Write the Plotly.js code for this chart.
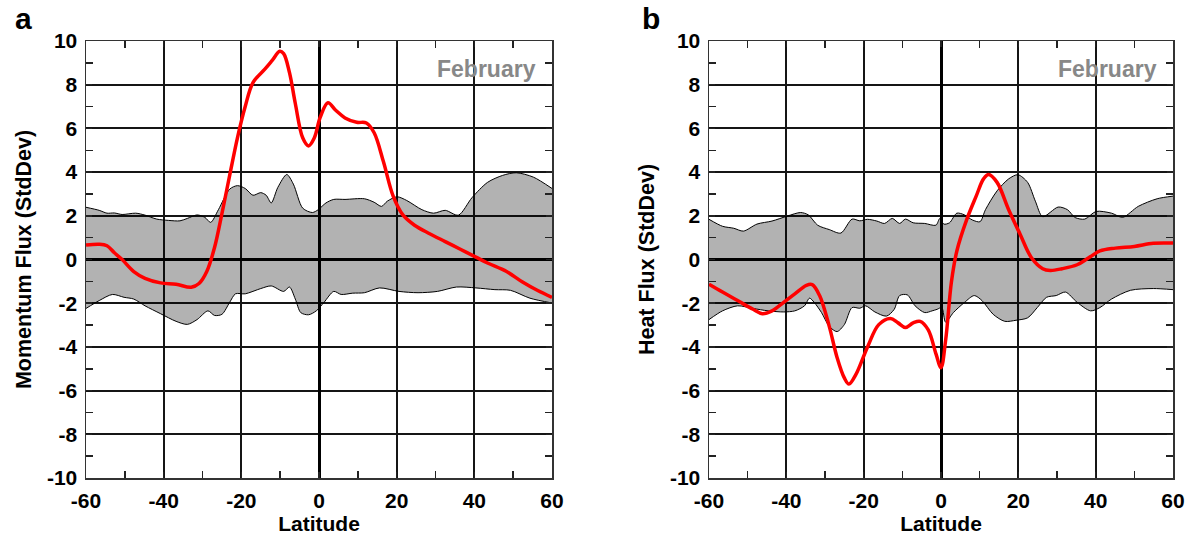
<!DOCTYPE html>
<html><head><meta charset="utf-8">
<script src="https://cdn.plot.ly/plotly-3.0.1.min.js"></script>
<style>html,body{margin:0;padding:0;background:#fff}#chart{width:1198px;height:539px}</style>
</head><body><div id="chart"></div>
<script>
// ---- Panel a: Momentum flux ----
const latA_red = [-60,-56.6,-54.6,-52.7,-50.7,-47.7,-44.8,-40.8,-36.8,-32.9,-30.9,-28.9,-26.9,-25,-23,-21,-19,-17,-14,-12.1,-10.1,-9.1,-7.6,-6.1,-4.2,-2.7,-1.2,0.3,2.3,4.3,6.7,9.7,12.2,14.2,16.6,19.1,21.6,24.6,28.5,32.5,36.4,40.4,43.4,48.3,52.3,56.2,60];
const valA_red = [0.66,0.7,0.63,0.31,0,-0.55,-0.86,-1.07,-1.13,-1.27,-1.1,-0.55,0.55,2.1,3.85,5.57,7,8.1,8.7,9.1,9.53,9.42,8.55,7.14,5.57,5.2,5.57,6.5,7.17,6.83,6.48,6.28,6.25,5.8,4.47,2.9,2.04,1.57,1.18,0.82,0.47,0.11,-0.16,-0.55,-1.02,-1.41,-1.73];
const latA_up = [-60,-56.6,-54.6,-52.7,-50.7,-47.2,-44.8,-41.8,-38.8,-35.8,-33.9,-31.4,-29.4,-27.9,-25.9,-23,-21,-19,-17,-15,-13.6,-12.3,-10.6,-8.3,-6.6,-4.2,-1.7,-0.2,1.8,3.8,6.7,11.7,14.2,16.1,17.6,20.1,22.6,26.5,29.5,32.5,35.9,39.4,43.4,47.3,50.8,55.2,60];
const valA_up = [2.39,2.25,2.12,2.13,2.06,2.12,2.03,1.85,1.79,1.77,1.88,2.04,1.93,1.7,2.28,3.22,3.38,3.25,2.94,3.06,2.94,2.59,3.3,3.89,3.45,2.35,2.15,2.28,2.59,2.75,2.75,2.78,2.62,2.43,2.67,2.87,2.7,2.28,2.12,2.25,2.03,2.83,3.53,3.85,3.97,3.77,3.25];
const latA_lo = [-60,-56.6,-53.2,-50.2,-47.7,-44.8,-40.8,-36.8,-33.9,-31.4,-28.6,-26.9,-25,-23,-21.5,-19,-15,-12.3,-9.1,-7.6,-6.1,-4.7,-2.7,-0.7,1.3,3.8,5.7,8.7,11.7,15.6,20.6,25.5,30.5,35.4,40.4,45.3,49.3,54.3,60];
const valA_lo = [-2.24,-1.88,-1.6,-1.73,-1.81,-2.12,-2.48,-2.83,-2.97,-2.75,-2.35,-2.56,-2.51,-1.96,-1.57,-1.57,-1.33,-1.21,-1.46,-1.26,-1.81,-2.43,-2.53,-2.35,-1.96,-1.46,-1.6,-1.54,-1.52,-1.3,-1.46,-1.52,-1.46,-1.26,-1.3,-1.38,-1.41,-1.77,-1.99];

// ---- Panel b: Heat flux ----
const latB_red = [-60,-56.5,-52.6,-48.6,-46.2,-43.7,-40.7,-37.8,-34.8,-33.3,-31.4,-28.9,-26.9,-25,-23.8,-22,-19,-16.1,-13.1,-11.1,-9.2,-7.2,-5.4,-3.3,-1.3,0,1.2,2.7,4.1,6.6,9.1,11,12.3,14.5,17.5,20.4,23.4,26.3,28.3,31.3,35.2,38.2,41.1,45.1,50,54.9,60];
const valB_red = [-1.13,-1.49,-1.88,-2.28,-2.48,-2.35,-1.96,-1.57,-1.18,-1.15,-1.65,-3.06,-4.47,-5.42,-5.7,-5.26,-4.0,-2.98,-2.7,-2.9,-3.11,-2.9,-2.83,-3.22,-4.32,-4.95,-3.69,-1.02,0.39,1.8,2.9,3.69,3.89,3.53,2.28,1.18,0.08,-0.42,-0.5,-0.42,-0.24,0.08,0.39,0.52,0.6,0.74,0.75];
const latB_up = [-60,-56.5,-53.6,-51.1,-47.6,-43.7,-39.7,-36.3,-34.3,-31.9,-28.9,-25.9,-23,-21,-19,-16.6,-14.6,-12.6,-10.7,-9.2,-7.2,-4.2,-1.3,-0.3,0.7,2.2,4.1,6.1,8.1,10.1,11.5,14.5,17.5,19.9,22.4,24.4,26.3,30.3,32.7,34.7,37.2,40.1,44.1,47,51,55.9,60];
const valB_up = [1.84,1.52,1.43,1.3,1.62,1.76,1.99,2.15,2.04,1.57,1.37,1.21,1.85,1.77,1.84,1.76,1.65,1.88,1.65,1.85,1.68,1.65,1.57,1.88,1.62,1.68,2.12,2.04,1.81,1.73,2.28,3.14,3.69,3.88,3.53,2.67,1.96,2.4,2.28,1.92,1.85,2.2,2.12,1.93,2.43,2.78,2.9];
const latB_lo = [-60,-56.5,-52.6,-48.6,-44.7,-40.7,-37.8,-35.3,-34,-32.8,-30.9,-28.9,-26.9,-25,-23,-21,-19.5,-17.1,-14.1,-12.1,-10.7,-8.7,-6.7,-4.2,-2.3,-1,0.2,1.2,3.2,6.1,8.6,10.6,13.5,16.5,19.4,22.4,24.9,27.3,29.8,32.2,35.2,38.7,41.1,44.1,49,54.9,60];
const valB_lo = [-2.75,-2.35,-2.12,-2.24,-2.35,-2.4,-2.35,-2.12,-1.77,-1.96,-2.43,-3.06,-3.3,-2.98,-2.2,-2.23,-2.12,-2.4,-2.59,-2.28,-1.65,-1.62,-2.12,-2.43,-2.35,-2.28,-2.2,-2.87,-2.43,-1.96,-1.65,-1.88,-2.51,-2.83,-2.78,-2.67,-2.2,-1.73,-1.65,-1.49,-1.96,-2.35,-2.2,-1.81,-1.41,-1.33,-1.38];

const xTickVals = [-60,-40,-20,0,20,40,60];
const xTickText = ['-60','-40','-20','0','20','40','60'];
const yTickVals = [-10,-8,-6,-4,-2,0,2,4,6,8,10];
const yTickText = ['-10','-8','-6','-4','-2','0','2','4','6','8','10'];
const panelLetters = ['a','b'];
const yTitles = ['Momentum Flux (StdDev)','Heat Flux (StdDev)'];
const xTitle = 'Latitude';
const monthLabel = 'February';

const FONT = 'Liberation Sans, Arial, Helvetica, sans-serif';
const bandFill = 'rgba(0,0,0,0.3)';

function bandTraces(lx, lv, ux, uv, xa, ya){
  return [
    {x: lx, y: lv, xaxis: xa, yaxis: ya, type:'scatter', mode:'lines',
     line:{color:'#000', width:1, shape:'spline', smoothing:0.8}, hoverinfo:'skip', showlegend:false},
    {x: ux, y: uv, xaxis: xa, yaxis: ya, type:'scatter', mode:'lines', fill:'tonexty', fillcolor: bandFill,
     line:{color:'#000', width:1, shape:'spline', smoothing:0.8}, hoverinfo:'skip', showlegend:false}
  ];
}
function redTrace(x, y, xa, ya){
  return {x:x, y:y, xaxis:xa, yaxis:ya, type:'scatter', mode:'lines',
    line:{color:'#ff0000', width:3.5, shape:'spline', smoothing:1}, showlegend:false};
}

const data = [
  ...bandTraces(latA_lo, valA_lo, latA_up, valA_up, 'x', 'y'),
  redTrace(latA_red, valA_red, 'x', 'y'),
  ...bandTraces(latB_lo, valB_lo, latB_up, valB_up, 'x2', 'y2'),
  redTrace(latB_red, valB_red, 'x2', 'y2')
];

const W = 1198, H = 539;
const yDom = [1 - 478/H, 1 - 41/H];

function xAxis(dom, anchor){
  return {
    domain: dom, anchor: anchor, range: [-60, 60], fixedrange: true,
    tickmode:'array', tickvals: xTickVals, ticktext: xTickText,
    ticks:'inside', ticklen: 6, tickcolor:'#222', tickwidth:1.5,
    showgrid: true, gridcolor:'#151515', gridwidth: 1.8,
    zeroline: true, zerolinecolor:'#000', zerolinewidth: 3,
    showline: true, linecolor:'#333', linewidth: 1.5, mirror:'ticks',
    minor: {tickmode:'array', tickvals:[-50,-30,-10,10,30,50], ticks:'inside', ticklen:7, tickcolor:'#222', tickwidth:1.5, showgrid:false},
    tickfont: {family: FONT, size: 21, color:'#000', weight:'bold'},
    ticklabelstandoff: 3,
    title: {text: xTitle, font:{family: FONT, size: 21, color:'#000', weight:'bold'}, standoff: 3},
    automargin: false
  };
}
function yAxis(anchor, title){
  return {
    domain: yDom, anchor: anchor, range: [-10, 10], fixedrange: true,
    tickmode:'array', tickvals: yTickVals, ticktext: yTickText,
    ticks:'inside', ticklen: 6, tickcolor:'#222', tickwidth:1.5,
    showgrid: true, gridcolor:'#151515', gridwidth: 1.8,
    zeroline: true, zerolinecolor:'#000', zerolinewidth: 3,
    showline: true, linecolor:'#333', linewidth: 1.5, mirror:'ticks',
    minor: {tickmode:'array', tickvals:[-9,-7,-5,-3,-1,1,3,5,7,9], ticks:'inside', ticklen:7, tickcolor:'#222', tickwidth:1.5, showgrid:false},
    tickfont: {family: FONT, size: 21, color:'#000', weight:'bold'},
    ticklabelstandoff: 3,
    title: {text: title, font:{family: FONT, size: 21.5, color:'#000', weight:'bold'}, standoff: 9},
    automargin: false
  };
}

const layout = {
  width: W, height: H,
  margin: {l:0, r:0, t:0, b:0},
  paper_bgcolor:'#fff', plot_bgcolor:'#fff',
  showlegend: false,
  xaxis: xAxis([86/W, 552/W], 'y'),
  yaxis: yAxis('x', yTitles[0]),
  xaxis2: xAxis([709/W, 1173/W], 'y2'),
  yaxis2: yAxis('x2', yTitles[1]),
  annotations: [
    {text: panelLetters[0], xref:'paper', yref:'paper', x: 23/W, y: 1 - 18/H, xanchor:'center', yanchor:'middle', showarrow:false,
     font:{family: FONT, size: 30, color:'#000', weight:'bold'}},
    {text: panelLetters[1], xref:'paper', yref:'paper', x: 651/W, y: 1 - 18/H, xanchor:'center', yanchor:'middle', showarrow:false,
     font:{family: FONT, size: 30, color:'#000', weight:'bold'}},
    {text: monthLabel, xref:'x domain', yref:'y domain', x: 0.97, y: 0.937, xanchor:'right', yanchor:'middle', showarrow:false,
     font:{family: FONT, size: 23, color:'#888', weight:'bold'}},
    {text: monthLabel, xref:'x2 domain', yref:'y2 domain', x: 0.97, y: 0.937, xanchor:'right', yanchor:'middle', showarrow:false,
     font:{family: FONT, size: 23, color:'#888', weight:'bold'}}
  ]
};

Plotly.newPlot('chart', data, layout, {displayModeBar:false, staticPlot:true});
</script>
</body></html>
